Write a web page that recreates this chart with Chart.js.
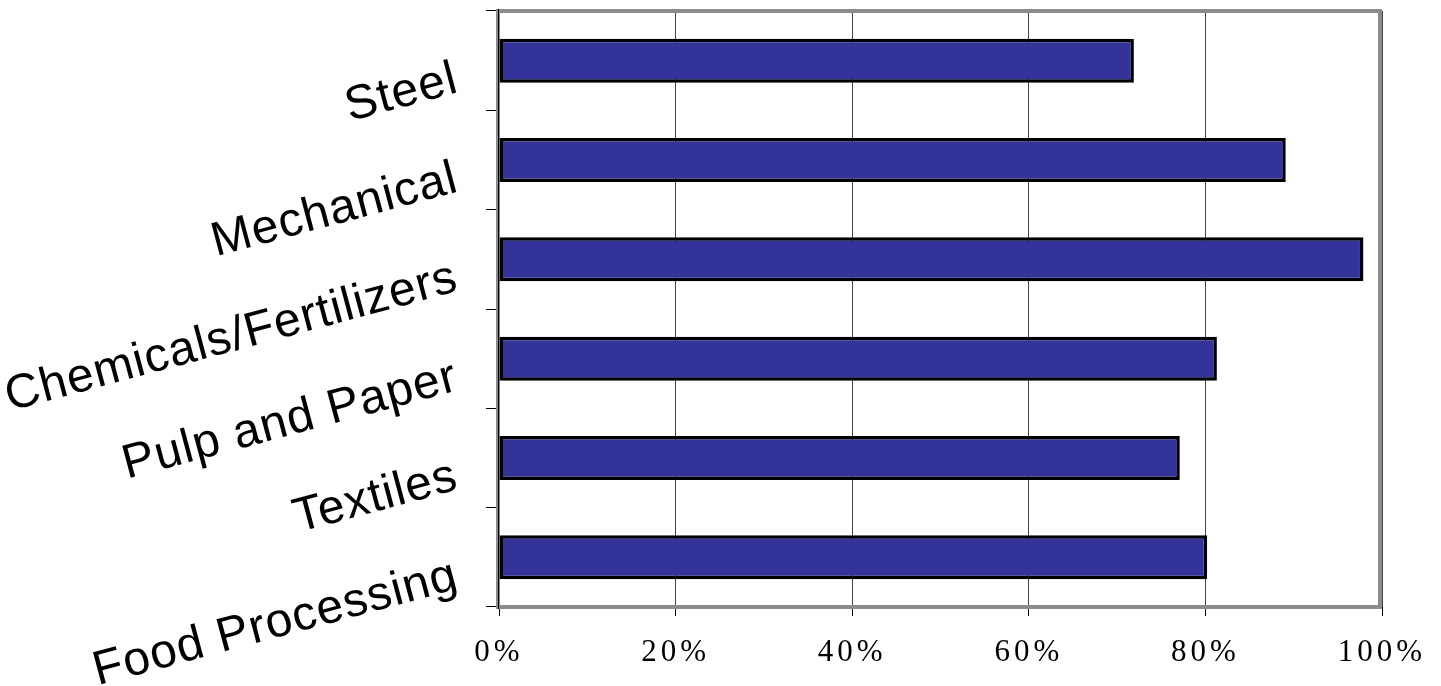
<!DOCTYPE html>
<html>
<head>
<meta charset="utf-8">
<title>Industry bar chart</title>
<script src="https://cdn.jsdelivr.net/npm/chart.js@4.4.1/dist/chart.umd.min.js"></script>
<style>
    html, body { margin: 0; padding: 0; background: #fff; }
    #industry { display: block; }
</style>
</head>
<body>
<canvas id="industry" width="1441" height="686"></canvas>
<script>
var industries = ['Steel', 'Mechanical', 'Chemicals/Fertilizers', 'Pulp and Paper', 'Textiles', 'Food Processing'];
var shares = [71.9, 89.1, 97.9, 81.3, 77.1, 80.2];
var tickValues = [0, 20, 40, 60, 80, 100];

// gray frame round the plot area + the black axis line on the left
var plotFrame = {
    id: 'plotFrame',
    beforeDatasetsDraw: function (chart) {
        var a = chart.chartArea;
        var c = chart.ctx;
        c.save();
        c.strokeStyle = '#8c8c8c';
        c.lineWidth = 4;
        c.strokeRect(a.left - 1, a.top, a.right - a.left - 1, a.bottom - a.top);
        c.strokeStyle = '#000';
        c.lineWidth = 1;
        c.beginPath();
        c.moveTo(a.left - 0.5, a.top - 2);
        c.lineTo(a.left - 0.5, a.bottom + 2);
        c.stroke();
        c.restore();
    }
};

// labels in the old chart are spaced out a bit
var spacing = { x: '4px', y: '1px' };
var spacedTicks = {
    id: 'spacedTicks',
    afterLayout: function (chart) {
        Object.keys(spacing).forEach(function (id) {
            var sc = chart.scales[id];
            if (sc._spaced) return;
            var orig = sc.drawLabels;
            sc.drawLabels = function (area) {
                chart.ctx.save();
                chart.ctx.letterSpacing = spacing[id];
                orig.call(sc, area);
                chart.ctx.restore();
            };
            sc._spaced = true;
        });
    }
};

var ctx = document.getElementById('industry').getContext('2d');
var industryChart = new Chart(ctx, {
    type: 'bar',
    data: {
        labels: industries,
        datasets: [{
            data: shares,
            backgroundColor: '#333399',
            borderColor: '#000',
            borderWidth: 3.5,
            borderSkipped: false,
            barPercentage: 0.443,
            categoryPercentage: 1
        }]
    },
    options: {
        indexAxis: 'y',
        responsive: false,
        animation: false,
        layout: { padding: { top: 11, right: 59, left: 0, bottom: 0 } },
        plugins: {
            legend: { display: false },
            tooltip: { enabled: false }
        },
        scales: {
            x: {
                min: 0,
                max: 100,
                afterBuildTicks: function (s) {
                    s.ticks = tickValues.map(function (v) { return { value: v }; });
                },
                ticks: {
                    callback: function (v) { return v + '%'; },
                    color: '#000',
                    font: { family: 'Liberation Serif', size: 31 },
                    padding: 18,
                    maxRotation: 0
                },
                grid: { color: '#444', lineWidth: 1, tickLength: 9, tickColor: '#000' },
                border: { display: false },
                afterFit: function (s) {
                    s.height = 79;
                    s.paddingLeft = 0;
                    s.paddingRight = 0;
                }
            },
            y: {
                ticks: {
                    autoSkip: false,
                    minRotation: 15,
                    maxRotation: 15,
                    padding: 34,
                    color: '#000',
                    font: { family: 'Liberation Sans', size: 48, lineHeight: 0.78 },
                    callback: function (v) { return ['', this.getLabelForValue(v)]; }
                },
                grid: { offset: true, drawOnChartArea: false, tickLength: 13, tickColor: '#000' },
                border: { display: false },
                afterFit: function (s) {
                    s.width = 499;
                    s.paddingTop = 0;
                    s.paddingBottom = 0;
                }
            }
        }
    },
    plugins: [plotFrame, spacedTicks]
});
</script>
</body>
</html>
